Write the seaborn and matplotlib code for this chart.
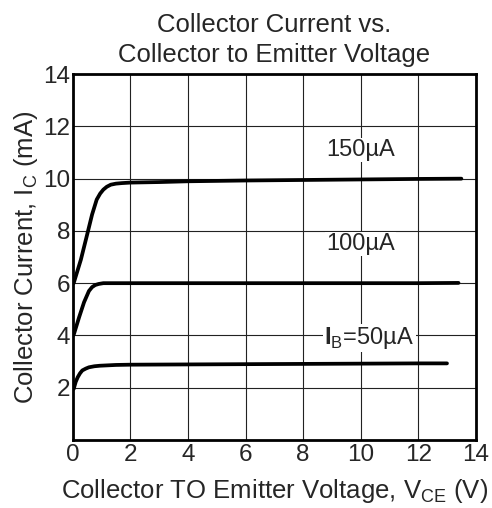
import matplotlib
matplotlib.use("Agg")
import matplotlib.pyplot as plt
import seaborn as sns
import pandas as pd

# Data
vce_150 = [0.03, 0.28, 0.5, 0.67, 0.83, 0.95, 1.06, 1.18, 1.32, 1.5, 1.7, 2.0, 3.0, 4.0, 6.0, 8.0, 10.0, 12.0, 13.5]
ic_150 = [6.0, 6.9, 7.87, 8.63, 9.2, 9.43, 9.58, 9.69, 9.77, 9.81, 9.83, 9.85, 9.87, 9.9, 9.93, 9.95, 9.97, 9.99, 10.0]

vce_100 = [0.03, 0.22, 0.39, 0.56, 0.67, 0.78, 0.9, 1.06, 1.5, 2.0, 4.0, 6.0, 8.0, 10.0, 12.0, 13.4]
ic_100 = [4.02, 4.7, 5.27, 5.7, 5.85, 5.93, 5.97, 6.0, 6.0, 6.0, 6.0, 6.0, 6.0, 6.0, 6.0, 6.01]

vce_50 = [0.03, 0.1, 0.17, 0.25, 0.33, 0.45, 0.56, 0.75, 0.94, 1.5, 2.0, 4.0, 6.0, 8.0, 10.0, 12.0, 13.0]
ic_50 = [1.95, 2.22, 2.4, 2.55, 2.66, 2.73, 2.78, 2.82, 2.84, 2.87, 2.88, 2.89, 2.9, 2.91, 2.92, 2.93, 2.93]

series_labels = ["150µA", "100µA", "$\\mathbf{I}_{\\mathrm{B}}$=50µA"]
label_pos_v = [10.0, 10.0, 10.3]
label_pos_i = [11.1, 7.5, 3.9]

x_ticks = [0, 2, 4, 6, 8, 10, 12, 14]
y_ticks = [2, 4, 6, 8, 10, 12, 14]

sns.set_style("white")
plt.rcParams["font.family"] = ["Liberation Sans", "DejaVu Sans"]
plt.rcParams["mathtext.fontset"] = "custom"
plt.rcParams["mathtext.rm"] = "Liberation Sans"
plt.rcParams["mathtext.bf"] = "Liberation Sans:bold"

fig = plt.figure(figsize=(4.92, 5.08), dpi=100)
ax = fig.add_axes([0.148, 0.134, 0.819, 0.72])

for vx, iy in [(vce_150, ic_150), (vce_100, ic_100), (vce_50, ic_50)]:
    df = pd.DataFrame({"V": vx, "I": iy})
    sns.lineplot(data=df, x="V", y="I", ax=ax, color="black", linewidth=2.7,
                 estimator=None, sort=False, zorder=3,
                 solid_joinstyle="round", solid_capstyle="round")

ax.set_xlim(0, 14)
ax.set_ylim(0, 14)
ax.set_xticks(x_ticks)
ax.set_yticks(y_ticks)
ax.set_xticklabels([str(t) for t in x_ticks])
ax.set_yticklabels([str(t) for t in y_ticks])
ax.tick_params(axis="both", labelsize=17.5, length=0)
ax.tick_params(axis="x", pad=3)
ax.tick_params(axis="y", pad=2)
ax.grid(True, color="#222222", linewidth=0.8)
for s in ax.spines.values():
    s.set_color("black")
    s.set_linewidth(2)

for lab, vx, iy in zip(series_labels, label_pos_v, label_pos_i):
    ax.text(vx, iy, lab, fontsize=17, ha="center", va="center", zorder=4,
            bbox=dict(facecolor="white", edgecolor="none", pad=1.0))

ax.set_xlabel("Collector TO Emitter Voltage, V$_{\\mathrm{CE}}$ (V)", fontsize=18.5, labelpad=8)
ax.set_ylabel("Collector Current, I$_{\\mathrm{C}}$ (mA)", fontsize=18.5, labelpad=2)
ax.set_title("Collector Current vs.\nCollector to Emitter Voltage", fontsize=18.5, pad=9,
             linespacing=1.3)

fig.savefig("out.png", dpi=100)
